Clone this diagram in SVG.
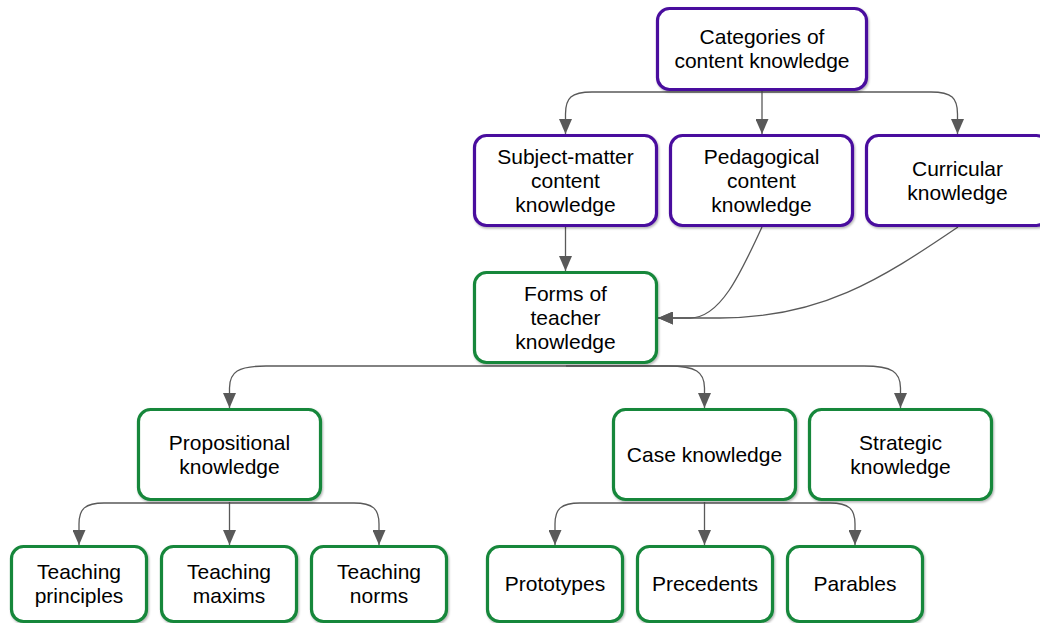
<svg xmlns="http://www.w3.org/2000/svg" width="1040" height="623" viewBox="0 0 1040 623">
  <defs>
    <marker id="arrow" markerUnits="userSpaceOnUse" markerWidth="15" markerHeight="13" refX="15" refY="6.5" orient="auto">
      <path d="M0,0 L15,6.5 L0,13 Z" fill="#595959"/>
    </marker>
    <filter id="shadow" x="-10%" y="-10%" width="125%" height="130%">
      <feDropShadow dx="1" dy="1.5" stdDeviation="1.2" flood-color="#000" flood-opacity="0.3"/>
    </filter>
  </defs>
  <style>
    .box { fill: #ffffff; stroke-width: 3.2; filter: url(#shadow); }
    .purple { stroke: #4a0e9e; }
    .green { stroke: #17873a; }
    .label { font-family: "Liberation Sans", Arial, sans-serif; font-size: 21px; fill: #000000; text-anchor: middle; }
    .edge { fill: none; stroke: #595959; stroke-width: 1.3; marker-end: url(#arrow); }
  </style>

  <rect width="1040" height="623" fill="#ffffff"/>

  <!-- connectors -->
  <g id="connectors">
    <!-- categories to its three kinds -->
    <path class="edge" d="M762,92 H592 C571,92 565.5,98 565.5,114 V134"/>
    <path class="edge" d="M762,90 V134"/>
    <path class="edge" d="M762,92 H931 C952,92 957.5,98 957.5,114 V134"/>
    <!-- the three kinds into forms of teacher knowledge -->
    <path class="edge" d="M565.5,227 V271"/>
    <path class="edge" d="M762,227 C740,275 720,318 690,318 H658"/>
    <path class="edge" d="M958,227 C880,280 820,318 720,318 H658"/>
    <!-- forms of teacher knowledge to its three forms -->
    <path class="edge" d="M565.5,366 H266 C238,366 229.5,372 229.5,388 V408"/>
    <path class="edge" d="M565.5,366 H668 C696,366 704.5,372 704.5,388 V408"/>
    <path class="edge" d="M565.5,366 H864 C892,366 900.5,372 900.5,388 V408"/>
    <!-- propositional knowledge children -->
    <path class="edge" d="M229.5,503 H104 C85,503 79,509 79,524 V545"/>
    <path class="edge" d="M229.5,502 V545"/>
    <path class="edge" d="M229.5,503 H354 C373,503 379,509 379,524 V545"/>
    <!-- case knowledge children -->
    <path class="edge" d="M704.5,503 H580 C561,503 555,509 555,524 V545"/>
    <path class="edge" d="M704.5,502 V545"/>
    <path class="edge" d="M704.5,503 H830 C849,503 855,509 855,524 V545"/>
  </g>

  <!-- nodes -->
  <g id="categories">
    <rect class="box purple" x="657.5" y="8.5" width="209" height="81" rx="12"/>
    <text class="label" x="762" y="44">Categories of</text>
    <text class="label" x="762" y="68">content knowledge</text>
  </g>
  <g id="subject-matter">
    <rect class="box purple" x="474.5" y="135.5" width="182" height="90" rx="12"/>
    <text class="label" x="565.5" y="164">Subject-matter</text>
    <text class="label" x="565.5" y="188">content</text>
    <text class="label" x="565.5" y="212">knowledge</text>
  </g>
  <g id="pedagogical">
    <rect class="box purple" x="670.5" y="135.5" width="182" height="90" rx="12"/>
    <text class="label" x="761.5" y="164">Pedagogical</text>
    <text class="label" x="761.5" y="188">content</text>
    <text class="label" x="761.5" y="212">knowledge</text>
  </g>
  <g id="curricular">
    <rect class="box purple" x="866.5" y="135.5" width="182" height="90" rx="12"/>
    <text class="label" x="957.5" y="176">Curricular</text>
    <text class="label" x="957.5" y="200">knowledge</text>
  </g>
  <g id="forms">
    <rect class="box green" x="474.5" y="272.5" width="182" height="90" rx="12"/>
    <text class="label" x="565.5" y="301">Forms of</text>
    <text class="label" x="565.5" y="325">teacher</text>
    <text class="label" x="565.5" y="349">knowledge</text>
  </g>
  <g id="propositional">
    <rect class="box green" x="138.5" y="409.5" width="182" height="90" rx="12"/>
    <text class="label" x="229.5" y="450">Propositional</text>
    <text class="label" x="229.5" y="474">knowledge</text>
  </g>
  <g id="case">
    <rect class="box green" x="613.5" y="409.5" width="182" height="90" rx="12"/>
    <text class="label" x="704.5" y="462">Case knowledge</text>
  </g>
  <g id="strategic">
    <rect class="box green" x="809.5" y="409.5" width="182" height="90" rx="12"/>
    <text class="label" x="900.5" y="450">Strategic</text>
    <text class="label" x="900.5" y="474">knowledge</text>
  </g>
  <g id="principles">
    <rect class="box green" x="11.5" y="546.5" width="135" height="75" rx="12"/>
    <text class="label" x="79" y="579">Teaching</text>
    <text class="label" x="79" y="603">principles</text>
  </g>
  <g id="maxims">
    <rect class="box green" x="161.5" y="546.5" width="135" height="75" rx="12"/>
    <text class="label" x="229" y="579">Teaching</text>
    <text class="label" x="229" y="603">maxims</text>
  </g>
  <g id="norms">
    <rect class="box green" x="311.5" y="546.5" width="135" height="75" rx="12"/>
    <text class="label" x="379" y="579">Teaching</text>
    <text class="label" x="379" y="603">norms</text>
  </g>
  <g id="prototypes">
    <rect class="box green" x="487.5" y="546.5" width="135" height="75" rx="12"/>
    <text class="label" x="555" y="591">Prototypes</text>
  </g>
  <g id="precedents">
    <rect class="box green" x="637.5" y="546.5" width="135" height="75" rx="12"/>
    <text class="label" x="705" y="591">Precedents</text>
  </g>
  <g id="parables">
    <rect class="box green" x="787.5" y="546.5" width="135" height="75" rx="12"/>
    <text class="label" x="855" y="591">Parables</text>
  </g>
</svg>
